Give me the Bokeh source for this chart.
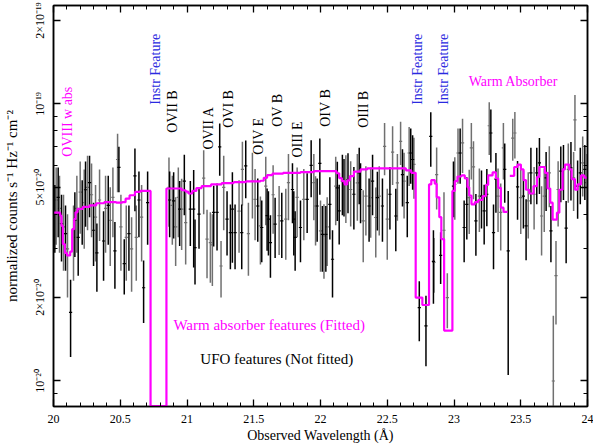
import math
from bokeh.plotting import figure
from bokeh.models import (ColumnDataSource, FixedTicker, SingleIntervalTicker,
                          LinearAxis, LogAxis, Range1d, CustomJSTickFormatter)
from bokeh.core.properties import value
from bokeh.embed import file_html
from bokeh.resources import INLINE

# ---------------- data (y in units of 1e-20 counts s^-1 Hz^-1 cm^-2) ----------------
blk_x = [20.010, 20.035, 20.060, 20.090, 20.128, 20.160, 20.185, 20.215, 20.240, 20.270,
         20.300, 20.325, 20.375, 20.410, 20.460, 20.490, 20.530, 20.565, 20.610, 20.640,
         20.675, 20.705,
         20.870, 20.900, 20.945, 20.980, 21.025, 21.050, 21.060, 21.090, 21.200, 21.225,
         21.245, 21.300, 21.325, 21.340, 21.360, 21.410, 21.440, 21.530, 21.560, 21.600,
         21.610, 21.625, 21.660, 21.710, 21.790, 21.800, 21.810, 21.850, 21.900, 21.930,
         21.975, 21.995,
         22.014, 22.040, 22.070, 22.090, 22.126, 22.140, 22.164, 22.176, 22.206, 22.250,
         22.290, 22.300, 22.364, 22.390, 22.426, 22.464, 22.520, 22.564, 22.614, 22.650,
         22.676, 22.690, 22.740, 22.790, 22.826, 22.846, 22.900,
         22.996, 23.046, 23.076, 23.096, 23.164, 23.206, 23.226, 23.246, 23.276, 23.296,
         23.314, 23.380, 23.406, 23.476, 23.520, 23.540, 23.576, 23.620, 23.640, 23.690,
         23.726, 23.800, 23.820, 23.840, 23.876, 23.926, 23.946, 23.980]
blk_y = [4.0, 4.6, 3.7, 3.4, 1.77, 3.8, 3.3, 4.2, 4.9, 5.2,
         3.5, 2.9, 3.2, 4.3, 2.95, 5.9, 2.65, 3.4, 5.5, 4.5,
         2.17, 4.4,
         4.5, 4.47, 4.17, 5.26, 4.17, 4.17, 3.03, 4.0, 4.06, 4.06,
         7.0, 3.84, 3.43, 4.17, 3.43, 3.43, 5.97, 4.28, 3.58, 3.95,
         3.84, 3.16, 3.68, 3.78, 4.91, 3.84, 3.3, 3.58, 4.52, 6.0,
         4.28, 6.1,
         3.38, 3.38, 4.34, 2.75, 4.98, 4.11, 5.26, 5.12, 5.33, 4.72,
         5.64, 4.91, 4.28, 5.26, 4.59, 4.28, 4.72, 3.94, 5.56, 4.40,
         6.65, 6.30, 1.84, 1.58, 7.63, 2.70, 2.84,
         5.05, 6.65, 3.58, 4.34, 3.78, 4.65, 4.11, 4.72, 7.85, 3.43,
         5.35, 5.80, 2.95, 5.02, 4.65, 3.63, 5.64, 5.64, 6.13, 5.41,
         3.48, 5.72, 5.80, 3.56, 5.88, 5.05, 5.64, 5.80]
blk_e = [1.1, 1.3, 1.0, 0.9, 0.55, 1.0, 0.9, 1.1, 1.3, 1.3,
         0.9, 0.8, 0.9, 1.2, 0.8, 1.1, 0.6, 0.9, 1.4, 1.2,
         0.55, 1.3,
         1.2, 1.2, 1.1, 1.3, 1.1, 1.6, 0.8, 1.0, 1.0, 1.1,
         1.5, 1.0, 0.9, 1.5, 0.9, 0.9, 1.4, 1.1, 0.9, 1.0,
         1.0, 0.8, 0.9, 1.0, 1.2, 1.0, 0.8, 0.9, 1.1, 1.4,
         1.1, 1.4,
         0.9, 0.9, 1.1, 0.75, 1.2, 1.0, 1.3, 1.2, 1.3, 1.2,
         1.3, 1.2, 1.1, 1.3, 1.1, 1.1, 1.2, 1.0, 1.3, 1.1,
         1.5, 1.4, 0.45, 0.45, 1.7, 0.8, 0.6,
         1.15, 1.5, 0.9, 1.1, 0.95, 1.1, 1.0, 1.1, 1.7, 0.9,
         1.3, 1.4, 1.9, 1.2, 1.1, 0.9, 1.3, 1.3, 1.4, 1.3,
         0.8, 1.3, 1.3, 0.9, 1.4, 1.2, 1.3, 1.3]

gry_x = [20.020, 20.045, 20.075, 20.105, 20.150, 20.175, 20.200, 20.230, 20.255, 20.285,
         20.315, 20.345, 20.390, 20.425, 20.445, 20.480, 20.505, 20.545, 20.585, 20.620,
         20.660,
         20.865, 20.890, 20.915, 20.935, 20.960, 20.990, 21.125, 21.150, 21.175, 21.190,
         21.255, 21.275, 21.390, 21.415, 21.460, 21.490, 21.510, 21.550, 21.590, 21.645,
         21.690, 21.740, 21.760, 21.825, 21.875, 21.950, 21.963,
         22.000, 22.026, 22.050, 22.114, 22.190, 22.226, 22.276, 22.320, 22.340, 22.376,
         22.414, 22.440, 22.480, 22.500, 22.540, 22.576, 22.600, 22.626, 22.664, 22.700,
         22.850, 22.870, 22.925, 22.950,
         23.006, 23.030, 23.064, 23.114, 23.130, 23.146, 23.190, 23.264, 23.330, 23.350,
         23.370, 23.440, 23.456, 23.500, 23.556, 23.600, 23.656, 23.676, 23.714, 23.744,
         23.764, 23.780, 23.856, 23.896, 23.906, 23.964, 23.995]
gry_y = [4.5, 4.2, 3.6, 3.0, 3.3, 4.2, 4.8, 4.4, 5.0, 4.7,
         3.9, 4.5, 4.2, 3.8, 4.6, 6.3, 3.6, 3.3, 3.0, 3.3,
         3.9,
         5.0, 4.3, 3.6, 4.6, 4.17, 3.73, 5.4, 3.25, 3.16, 3.1,
         2.6, 5.0, 4.1, 5.8, 3.4, 5.26, 4.52, 3.63, 5.05, 4.7,
         3.95, 3.84, 5.2, 4.6, 4.52, 5.2, 4.28,
         3.48, 3.34, 3.6, 5.05, 5.12, 4.91, 5.19, 3.78, 4.65, 4.59,
         3.89, 4.65, 7.03, 3.84, 6.7, 5.19, 7.32, 5.26, 6.65, 6.05,
         2.68, 5.56, 3.5, 2.0,
         5.12, 6.65, 7.23, 4.59, 6.94, 5.93, 4.65, 8.34, 4.65, 4.06,
         6.94, 7.53, 7.85, 4.59, 4.47, 4.72, 3.94, 4.65, 5.64, 1.0,
         2.4, 4.91, 5.8, 5.41, 8.76, 6.13, 5.2]
gry_e = [1.4, 1.3, 1.1, 1.0, 1.0, 1.3, 1.4, 1.4, 1.5, 1.4,
         1.2, 1.3, 1.3, 1.2, 1.3, 1.5, 1.1, 1.0, 0.9, 1.0,
         1.2,
         1.4, 1.2, 1.0, 1.3, 1.2, 1.1, 1.4, 0.9, 0.9, 0.9,
         0.6, 1.5, 1.2, 1.5, 1.0, 1.4, 1.3, 1.0, 1.4, 1.3,
         1.1, 1.1, 1.4, 1.3, 1.3, 1.4, 1.2,
         1.0, 1.0, 1.0, 1.4, 1.4, 1.3, 1.4, 1.1, 1.3, 1.3,
         1.1, 1.3, 1.5, 1.1, 1.6, 1.4, 1.3, 1.4, 1.6, 1.5,
         0.6, 1.4, 1.3, 0.45,
         1.3, 1.5, 1.6, 1.2, 1.6, 1.4, 1.2, 1.8, 1.2, 1.1,
         1.6, 1.3, 1.5, 1.2, 1.2, 1.2, 1.1, 1.2, 1.4, 0.72,
         0.8, 1.3, 1.4, 1.3, 2.0, 1.5, 1.4]
bin_half = 0.012

# warm-absorber model (step), two segments
mod1_x = [20.000, 20.050, 20.060, 20.070, 20.085, 20.100, 20.125, 20.140, 20.155, 20.165,
          20.180, 20.220, 20.270, 20.320, 20.380, 20.470, 20.515, 20.540, 20.570, 20.610,
          20.650, 20.727, 20.846, 20.960, 20.990, 21.010, 21.040, 21.070, 21.110, 21.180,
          21.260, 21.350, 21.440, 21.550, 21.575, 21.600, 21.640, 21.720, 21.850, 21.950,
          22.120, 22.140, 22.160, 22.180, 22.200, 22.220, 22.250, 22.300, 22.350, 22.640,
          22.680, 22.713, 22.763, 22.813, 22.830, 22.856, 22.870, 22.890, 22.905, 22.926,
          22.988, 23.006, 23.026, 23.056, 23.081, 23.101, 23.114, 23.131, 23.156, 23.181,
          23.214, 23.239, 23.256, 23.289, 23.314, 23.331, 23.351, 23.371, 23.401]
mod1_y = [4.05, 3.95, 3.63, 3.12, 2.90, 2.84, 2.93, 3.53, 3.84, 4.06,
          4.18, 4.25, 4.30, 4.38, 4.42, 4.40, 4.42, 4.55, 4.68, 4.81,
          4.85, 0.812, 4.95, 4.88, 4.82, 4.75, 4.85, 4.97, 5.05, 5.12,
          5.18, 5.22, 5.25, 5.28, 5.41, 5.53, 5.60, 5.64, 5.67, 5.72,
          5.62, 5.40, 5.26, 5.12, 5.30, 5.49, 5.70, 5.80, 5.85, 5.76,
          5.64, 2.00, 1.88, 5.12, 5.31, 5.15, 4.60, 3.90, 3.25, 1.52,
          4.85, 5.26, 5.47, 5.52, 5.38, 5.00, 4.67, 4.34, 4.42, 4.50,
          4.65, 5.10, 5.52, 5.66, 5.38, 4.98, 4.22, 4.08, 4.08]
mod2_x = [23.418, 23.451, 23.476, 23.501, 23.521, 23.539, 23.564, 23.596, 23.621, 23.639,
          23.681, 23.701, 23.721, 23.739, 23.771, 23.789, 23.814, 23.831, 23.864, 23.881,
          23.906, 23.926, 23.951, 23.976, 24.000]
mod2_y = [5.50, 5.92, 6.04, 5.80, 5.31, 4.90, 4.75, 5.05, 5.45, 5.92,
          5.64, 4.95, 4.40, 3.82, 4.05, 4.90, 5.80, 6.04, 5.80, 5.35,
          4.90, 5.12, 5.52, 5.42, 5.42]

# axis ticks
y_tick_vals = [1, 2, 5, 10, 20]
y_tick_labels = ["10\u207b\u00b2\u2070", "2\u00d710\u207b\u00b2\u2070", "5\u00d710\u207b\u00b2\u2070",
                 "10\u207b\u00b9\u2079", "2\u00d710\u207b\u00b9\u2079"]
y_minor_vals = [0.9, 3, 4, 6, 7, 8, 9]

# annotations
rot_text = ["OVIII w abs", "Instr Feature", "OVII B", "OVII A", "OVI B", "OIV E", "OV B",
            "OIII E", "OIV B", "OIII B", "Instr Feature", "Instr Feature"]
rot_x = [20.103, 20.763, 20.890, 21.160, 21.310, 21.535, 21.678, 21.830, 22.040, 22.320,
         22.728, 22.923]
rot_y = [6.45, 9.92, 7.87, 6.84, 8.20, 6.56, 8.27, 6.40, 8.27, 8.20, 9.92, 9.92]
rot_color = ["#ff00ff", "#2a2ae0", "black", "black", "black", "black", "black", "black",
             "black", "black", "#2a2ae0", "#2a2ae0"]
hor_text = ["Warm Absorber", "Warm absorber features (Fitted)", "UFO features (Not fitted)"]
hor_x = [23.110, 20.898, 21.100]
hor_y = [12.0, 1.597, 1.197]
hor_color = ["#ff00ff", "#ff00ff", "black"]
hor_size = ["14px", "15px", "15px"]

FONT = "Liberation Serif"

p = figure(width=593, height=445, x_range=Range1d(20, 24), y_range=Range1d(0.809, 22.65),
           y_axis_type="log", output_backend="svg", toolbar_location=None,
           min_border_left=53, min_border_right=6, min_border_top=5, min_border_bottom=37)
p.xgrid.visible = False
p.ygrid.visible = False
p.outline_line_color = "black"
p.outline_line_width = 1.5
p.background_fill_color = "white"
p.border_fill_color = "white"

xt = SingleIntervalTicker(interval=0.5, num_minor_ticks=5)
yt = FixedTicker(ticks=y_tick_vals, minor_ticks=y_minor_vals)


def style(ax):
    ax.axis_line_color = "black"
    ax.axis_line_width = 1.5
    ax.major_tick_line_color = "black"
    ax.minor_tick_line_color = "black"
    ax.major_tick_line_width = 1.3
    ax.minor_tick_line_width = 1.0
    ax.major_tick_in = 7
    ax.major_tick_out = 0
    ax.minor_tick_in = 4
    ax.minor_tick_out = 0
    ax.major_label_text_font = FONT
    ax.major_label_text_font_size = "12px"
    ax.major_label_text_color = "black"
    ax.axis_label_text_font = FONT
    ax.axis_label_text_font_size = "14px"
    ax.axis_label_text_font_style = "normal"
    ax.axis_label_text_color = "black"


def mirror(ax):
    style(ax)
    ax.formatter = CustomJSTickFormatter(code="return ''")
    ax.major_label_text_font_size = "1px"
    ax.major_label_text_color = None
    ax.major_label_standoff = 0


xa = p.xaxis[0]
style(xa)
xa.ticker = xt
xa.axis_label = "Observed Wavelength (\u00c5)"
xa.major_label_standoff = 8
xa.axis_label_standoff = 2

ya = p.yaxis[0]
style(ya)
ya.ticker = yt
ya.major_label_overrides = dict(zip(y_tick_vals, y_tick_labels))
ya.major_label_orientation = "parallel"
ya.axis_label = "normalized counts s\u207b\u00b9 Hz\u207b\u00b9 cm\u207b\u00b2"
ya.axis_label_text_font_size = "15px"
ya.major_label_standoff = 6
ya.axis_label_standoff = 11

top = LinearAxis(ticker=xt)
mirror(top)
p.add_layout(top, "above")

right = LogAxis(ticker=yt)
mirror(right)
p.add_layout(right, "right")

# data error bars
for xs, ys, es, col in ((gry_x, gry_y, gry_e, "#707070"), (blk_x, blk_y, blk_e, "black")):
    src = ColumnDataSource(dict(
        x=xs, y=ys,
        lo=[y - e for y, e in zip(ys, es)], hi=[y + e for y, e in zip(ys, es)],
        xl=[x - bin_half for x in xs], xr=[x + bin_half for x in xs]))
    p.segment(x0="x", y0="lo", x1="x", y1="hi", source=src, line_color=col, line_width=1.5)
    p.segment(x0="xl", y0="y", x1="xr", y1="y", source=src, line_color=col, line_width=1.2)

# model
p.step(mod1_x, mod1_y, mode="after", line_color="#ff00ff", line_width=2.2)
p.step(mod2_x, mod2_y, mode="after", line_color="#ff00ff", line_width=2.2)

# annotations
rsrc = ColumnDataSource(dict(x=rot_x, y=rot_y, t=rot_text, c=rot_color))
p.text(x="x", y="y", text="t", text_color="c", source=rsrc, angle=math.pi / 2,
       text_align="left", text_baseline="middle", text_font=value(FONT),
       text_font_size="14px")
hsrc = ColumnDataSource(dict(x=hor_x, y=hor_y, t=hor_text, c=hor_color, s=hor_size))
p.text(x="x", y="y", text="t", text_color="c", text_font_size="s", source=hsrc,
       text_align="left", text_baseline="middle", text_font=value(FONT))

open("out.html", "w").write(file_html(p, INLINE))
